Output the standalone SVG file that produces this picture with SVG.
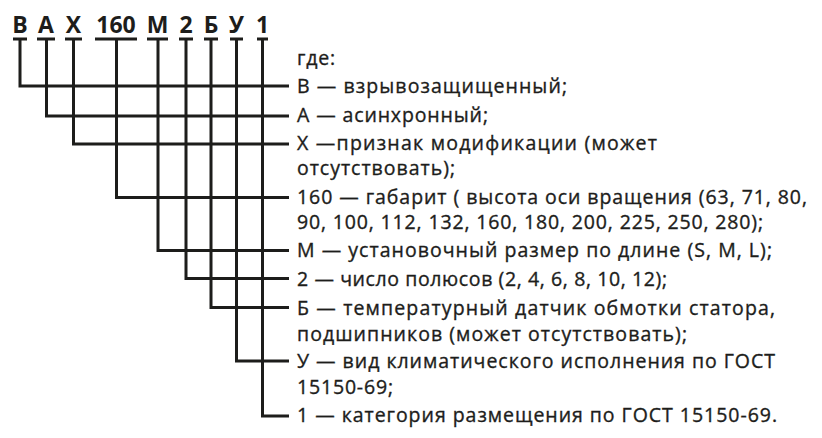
<svg xmlns="http://www.w3.org/2000/svg" width="822" height="438" viewBox="0 0 822 438">
<style>
.hd{font-family:"Open Sans","DejaVu Sans",sans-serif;font-weight:700;font-size:23px;fill:#1d1d1b;text-anchor:middle}
.tx{font-family:"Open Sans","DejaVu Sans",sans-serif;font-weight:500;font-size:19.5px;fill:#1d1d1b;stroke:#1d1d1b;stroke-width:0.35}
.ln{fill:none;stroke:#1d1d1b;stroke-width:3;stroke-linecap:butt;stroke-linejoin:miter}
</style>
<rect width="822" height="438" fill="#ffffff"/>
<g id="code">
<g id="c-B"><text class="hd" x="20" y="33">В</text><line class="ln" x1="13" y1="39" x2="27" y2="39"/></g>
<g id="c-A"><text class="hd" x="46" y="33">А</text><line class="ln" x1="37" y1="39" x2="55" y2="39"/></g>
<g id="c-X"><text class="hd" x="73.5" y="33">Х</text><line class="ln" x1="65" y1="39" x2="82" y2="39"/></g>
<g id="c-160"><text class="hd" x="116" y="33">160</text><line class="ln" x1="95" y1="39" x2="137" y2="39"/></g>
<g id="c-M"><text class="hd" x="157.5" y="33">М</text><line class="ln" x1="147" y1="39" x2="168" y2="39"/></g>
<g id="c-2"><text class="hd" x="186" y="33">2</text><line class="ln" x1="179" y1="39" x2="193" y2="39"/></g>
<g id="c-Be"><text class="hd" x="211" y="33">Б</text><line class="ln" x1="204" y1="39" x2="218" y2="39"/></g>
<g id="c-U"><text class="hd" x="236.5" y="33">У</text><line class="ln" x1="230" y1="39" x2="243" y2="39"/></g>
<g id="c-1"><text class="hd" x="262.5" y="33">1</text><line class="ln" x1="257" y1="39" x2="268" y2="39"/></g>
</g>
<g id="connectors">
<path class="ln" d="M20,39V86H289"/>
<path class="ln" d="M46.5,39V116H289"/>
<path class="ln" d="M73.5,39V144H289"/>
<path class="ln" d="M116.5,39V197.5H289"/>
<path class="ln" d="M158,39V250.5H289"/>
<path class="ln" d="M186,39V278.5H289"/>
<path class="ln" d="M211,39V307.5H289"/>
<path class="ln" d="M236.5,39V361H289"/>
<path class="ln" d="M262.5,39V416H289"/>
</g>
<g id="legend">
<g id="l-title"><text class="tx" x="297" y="65" textLength="38" lengthAdjust="spacing">где:</text></g>
<g id="l-B"><text class="tx" x="297" y="93" textLength="270" lengthAdjust="spacing">В — взрывозащищенный;</text></g>
<g id="l-A"><text class="tx" x="297" y="121.5" textLength="191" lengthAdjust="spacing">А — асинхронный;</text></g>
<g id="l-X"><text class="tx" x="297" y="150" textLength="360" lengthAdjust="spacing">Х —признак модификации (может</text><text class="tx" x="297" y="175" textLength="158" lengthAdjust="spacing">отсутствовать);</text></g>
<g id="l-160"><text class="tx" x="297" y="203.5" textLength="510" lengthAdjust="spacing">160 — габарит ( высота оси вращения (63, 71, 80,</text><text class="tx" x="297" y="229" textLength="466" lengthAdjust="spacing">90, 100, 112, 132, 160, 180, 200, 225, 250, 280);</text></g>
<g id="l-M"><text class="tx" x="297" y="257" textLength="475" lengthAdjust="spacing">М — установочный размер по длине (S, M, L);</text></g>
<g id="l-2"><text class="tx" x="297" y="285.5" textLength="370" lengthAdjust="spacing">2 — число полюсов (2, 4, 6, 8, 10, 12);</text></g>
<g id="l-Be"><text class="tx" x="297" y="315" textLength="478" lengthAdjust="spacing">Б — температурный датчик обмотки статора,</text><text class="tx" x="297" y="341" textLength="390" lengthAdjust="spacing">подшипников (может отсутствовать);</text></g>
<g id="l-U"><text class="tx" x="297" y="368" textLength="478" lengthAdjust="spacing">У — вид климатического исполнения по ГОСТ</text><text class="tx" x="297" y="393.5" textLength="96" lengthAdjust="spacing">15150-69;</text></g>
<g id="l-1"><text class="tx" x="297" y="421.5" textLength="480" lengthAdjust="spacing">1 — категория размещения по ГОСТ 15150-69.</text></g>
</g>
</svg>
